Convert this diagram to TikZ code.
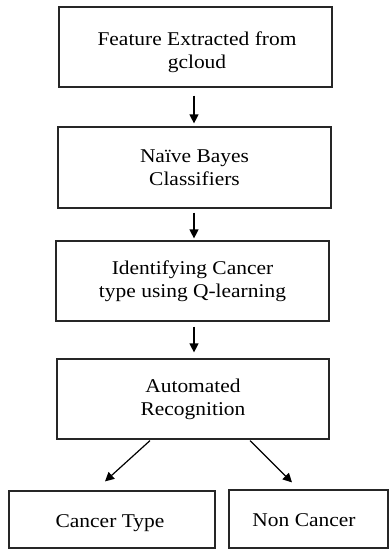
\documentclass[tikz,border=0pt]{standalone}
\usepackage{fontspec}
\setmainfont{Liberation Serif}[FakeStretch=1.1]
\usetikzlibrary{arrows.meta,positioning}
\begin{document}
\begin{tikzpicture}[x=1pt,y=1pt,
  box/.style={draw=black!85,line width=1.2pt,rectangle,inner sep=0pt,align=center,
    font=\fontsize{19.5}{23}\selectfont,text=black},
  arr/.style={draw=black,line width=1.2pt,-{Triangle[length=9pt,width=9pt]}}]
\useasboundingbox (0,0) rectangle (389,-549);
\node[box,minimum width=273pt,minimum height=80pt] (b1) at (195.5,-47) {};
\node[font=\fontsize{19.5}{23}\selectfont,text=black,align=center] (t1) at (197,-52) {Feature Extracted from\\gcloud};
\node[box,minimum width=273pt,minimum height=81pt] (b2) at (194.5,-167.5) {Naïve Bayes\\Classifiers};
\node[box,minimum width=273pt,minimum height=80pt] (b3) at (192.5,-281) {Identifying Cancer\\type using Q-learning};
\node[box,minimum width=272pt,minimum height=80pt] (b4) at (193,-399) {Automated\\Recognition};
\node[box,minimum width=206pt,minimum height=57pt] (c1) at (112,-519.5) {};
\node[font=\fontsize{19.5}{23}\selectfont,text=black] (t5) at (110,-523) {Cancer Type};
\node[box,minimum width=159pt,minimum height=58pt] (c2) at (308.5,-519) {};
\node[font=\fontsize{19.5}{23}\selectfont,text=black] (t6) at (304,-520) {Non Cancer};
\draw[arr] ([xshift=-1.5pt,yshift=-8pt]b1.south) -- ([xshift=-0.5pt,yshift=3pt]b2.north);
\draw[arr] ([xshift=-0.5pt,yshift=-4pt]b2.south) -- ([xshift=1.5pt,yshift=2pt]b3.north);
\draw[arr] ([xshift=1.5pt,yshift=-5pt]b3.south) -- ([xshift=1pt,yshift=6pt]b4.north);
\draw[arr] ([xshift=-43pt,yshift=-1pt]b4.south) -- ([xshift=-7pt,yshift=9pt]c1.north);
\draw[arr] ([xshift=57pt,yshift=-1pt]b4.south) -- ([xshift=-16.5pt,yshift=7pt]c2.north);
\end{tikzpicture}
\end{document}
